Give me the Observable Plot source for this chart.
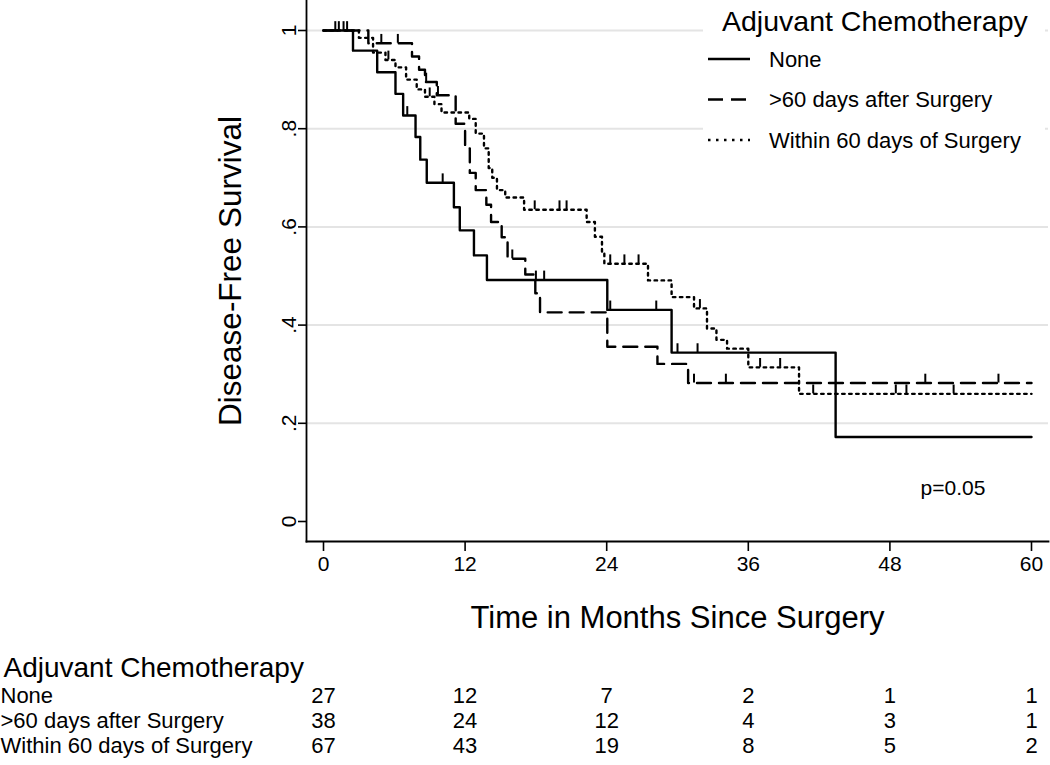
<!DOCTYPE html>
<html><head><meta charset="utf-8">
<script src="https://cdn.jsdelivr.net/npm/d3@7"></script>
<script src="https://cdn.jsdelivr.net/npm/@observablehq/plot@0.6"></script>
<style>
body{margin:0;background:#fff;font-family:"Liberation Sans",Arial,sans-serif;}
#wrap{position:relative;width:1050px;height:765px;overflow:hidden;}
#legend{position:absolute;left:703px;top:0;}
</style></head><body><div id="wrap"></div>
<script>
// ---- data ----
const groups = ["None", ">60 days after Surgery", "Within 60 days of Surgery"];
const legendTitle = "Adjuvant Chemotherapy";

// None (solid)
const noneT = [0, 2.5, 4.55, 6.1, 6.75, 7.8, 8.2, 8.75, 11.05, 11.55, 12.75, 13.85, 24.05, 29.5, 43.4, 60];
const noneS = [1, 0.959, 0.915, 0.871, 0.827, 0.783, 0.737, 0.690, 0.640, 0.593, 0.542, 0.492, 0.431, 0.344, 0.172, 0.172];
const noneCensT = [1.0, 1.3, 1.7, 2.0, 7.1, 10.1, 18.0, 18.7, 24.3, 28.2, 30.0, 31.7];
const noneCensS = [1, 1, 1, 1, 0.827, 0.690, 0.492, 0.492, 0.431, 0.431, 0.344, 0.344];

// >60 days after surgery (dashed)
const lateT = [0, 3.8, 7.5, 8.1, 8.6, 9.6, 11.2, 12.0, 12.4, 12.9, 13.8, 14.2, 15.1, 15.6, 17.1, 17.95, 18.35, 24.05, 28.3, 30.9, 60];
const lateS = [1, 0.974, 0.947, 0.92, 0.895, 0.868, 0.81, 0.76, 0.71, 0.675, 0.645, 0.61, 0.579, 0.535, 0.503, 0.465, 0.426, 0.356, 0.321, 0.282, 0.282];
const lateCensT = [4.9, 6.3, 8.7, 9.7, 16.0, 31.4, 34.1, 51.0, 57.2];
const lateCensS = [0.974, 0.974, 0.895, 0.868, 0.535, 0.282, 0.282, 0.282, 0.282];

// Within 60 days of surgery (dotted)
const earlyT = [0, 3.0, 4.2, 5.25, 6.1, 7.0, 7.9, 8.6, 9.4, 10.0, 12.35, 12.9, 13.6, 14.0, 14.3, 14.7, 15.4, 17.0, 22.3, 23.0, 23.6, 23.8, 27.5, 29.5, 31.4, 32.5, 33.3, 34.2, 36.0, 40.3, 60];
const earlyS = [1, 0.985, 0.955, 0.94, 0.925, 0.90, 0.88, 0.865, 0.85, 0.833, 0.82, 0.79, 0.76, 0.72, 0.70, 0.675, 0.66, 0.635, 0.61, 0.58, 0.55, 0.525, 0.491, 0.457, 0.434, 0.393, 0.37, 0.352, 0.314, 0.26, 0.26];
const earlyCensT = [5.5, 9.0, 17.9, 20.0, 20.6, 24.3, 25.5, 26.7, 31.9, 37.0, 38.7, 41.5, 48.5, 49.4, 53.4];
const earlyCensS = [0.94, 0.865, 0.635, 0.635, 0.635, 0.525, 0.525, 0.525, 0.434, 0.314, 0.314, 0.26, 0.26, 0.26, 0.26];

// axes
const xTicks = [0, 12, 24, 36, 48, 60];
const yTicks = [0, 0.2, 0.4, 0.6, 0.8, 1];
const yTickLabels = ["0", ".2", ".4", ".6", ".8", "1"];
const gridVals = [0.2, 0.4, 0.6, 0.8, 1];
const xTitle = "Time in Months Since Surgery";
const yTitle = "Disease-Free Survival";
const pText = "p=0.05", pX = 50.6, pY = 0.067;

// number at risk
const riskTimes = [0, 12, 24, 36, 48, 60];
const riskNone = [27, 12, 7, 2, 1, 1];
const riskLate = [38, 24, 12, 4, 3, 1];
const riskEarly = [67, 43, 19, 8, 5, 2];

// ---- build tables ----
const mk = (T, S) => T.map((t, i) => ({t, s: S[i]}));
const noneD = mk(noneT, noneS), lateD = mk(lateT, lateS), earlyD = mk(earlyT, earlyS);
const cens = [mk(noneCensT, noneCensS), mk(lateCensT, lateCensS), mk(earlyCensT, earlyCensS)].flat();
const riskRows = [riskNone, riskLate, riskEarly];
const yTickData = yTicks.map((v, i) => ({v, label: yTickLabels[i]}));

const F = "Liberation Sans, Arial, sans-serif";
const dashes = [null, "14,8", "2.5,4.5"];

const rowMarks = riskRows.flatMap((row, r) => [
  Plot.text([groups[r]], {frameAnchor: "bottom-left", dx: -306, dy: 161 + 25 * r, text: d => d, textAnchor: "start", fontSize: 22, fill: "#000"}),
  Plot.text(row.map((n, i) => ({t: riskTimes[i], n})), {x: "t", frameAnchor: "bottom", dy: 161 + 25 * r, text: "n", fontSize: 22, fill: "#000"})
]);

const chart = Plot.plot({
  width: 1050, height: 765,
  marginTop: 0, marginLeft: 306, marginRight: 2, marginBottom: 224,
  x: {domain: [0, 60], insetLeft: 17, insetRight: 17, label: null},
  y: {domain: [0, 1], insetTop: 30, insetBottom: 20, label: null},
  style: {fontFamily: F, background: "#fff", color: "#000"},
  marks: [
    Plot.ruleY(gridVals, {stroke: "#e4e4e4", strokeWidth: 2}),
    Plot.frame({anchor: "left", stroke: "#000", strokeWidth: 1.8}),
    Plot.frame({anchor: "bottom", stroke: "#000", strokeWidth: 1.8}),
    Plot.axisX(xTicks, {tickSize: 10, tickPadding: 5, fontSize: 21, stroke: "#000", strokeWidth: 1.6}),
    Plot.axisY(yTicks, {tickSize: 8, tickFormat: () => "", stroke: "#000", strokeWidth: 1.6}),
    Plot.text(yTickData, {y: "v", text: "label", frameAnchor: "left", dx: -17, rotate: -90, textAnchor: "middle", fontSize: 21, fill: "#000"}),
    Plot.line(noneD, {x: "t", y: "s", curve: "step-after", stroke: "#000", strokeWidth: 2.4}),
    Plot.line(lateD, {x: "t", y: "s", curve: "step-after", stroke: "#000", strokeWidth: 2.4, strokeDasharray: dashes[1]}),
    Plot.line(earlyD, {x: "t", y: "s", curve: "step-after", stroke: "#000", strokeWidth: 2.4, strokeDasharray: dashes[2]}),
    Plot.ruleX(cens, {x: "t", y1: "s", y2: d => d.s + 0.018, stroke: "#000", strokeWidth: 2}),
    Plot.text([pText], {x: pX, y: pY, text: d => d, textAnchor: "start", fontSize: 21, fill: "#000"}),
    Plot.text([xTitle], {frameAnchor: "bottom", dy: 86, text: d => d, textAnchor: "middle", fontSize: 31, fill: "#000"}),
    Plot.text([yTitle], {frameAnchor: "left", dx: -76, rotate: -90, text: d => d, textAnchor: "middle", fontSize: 31.5, fill: "#000"}),
    Plot.text([legendTitle], {frameAnchor: "bottom-left", dx: -303, dy: 135, text: d => d, textAnchor: "start", fontSize: 28, fill: "#000"}),
    ...rowMarks
  ]
});
document.getElementById("wrap").appendChild(chart);

// legend overlay inside the plot area
const lw = 342, lh = 158;
const lg = d3.create("svg").attr("id", "legend").attr("width", lw).attr("height", lh)
  .style("background", "#fff").style("font-family", F);
lg.append("text").attr("x", 19).attr("y", 31).attr("font-size", 28.5).attr("fill", "#000").text(legendTitle);
groups.forEach((g, i) => {
  const y = 59 + 40.5 * i;
  const ln = lg.append("line").attr("x1", 5).attr("x2", 47).attr("y1", y).attr("y2", y)
    .attr("stroke", "#000").attr("stroke-width", 2.4);
  if (i === 1) ln.attr("stroke-dasharray", "15,8");
  if (i === 2) ln.attr("stroke-dasharray", "2.5,5.5");
  lg.append("text").attr("x", 66).attr("y", y).attr("dy", "0.35em").attr("font-size", 22).attr("fill", "#000").text(g);
});
document.getElementById("wrap").appendChild(lg.node());
</script></body></html>
